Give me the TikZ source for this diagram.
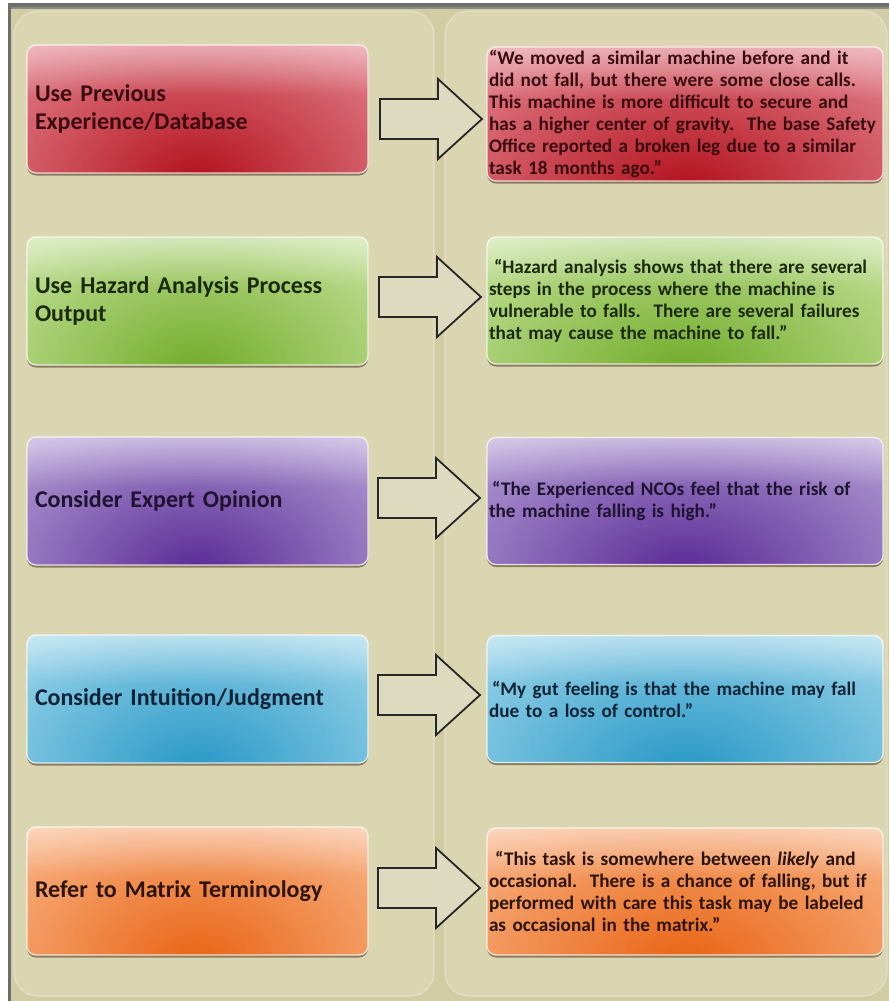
\documentclass[tikz,border=0pt]{standalone}
\usepackage{fontspec}
\setmainfont{Carlito}
\usetikzlibrary{shadows,fadings}

% palette
\definecolor{bgtan}{HTML}{D2CCA4}
\definecolor{paneltan}{HTML}{DBD6B2}
\definecolor{paneledge}{HTML}{E4E0C4}
\definecolor{framegray}{HTML}{6E6E6A}
\definecolor{arrowfill}{HTML}{DEDAC0}

\definecolor{redL}{HTML}{EC98A2}   \definecolor{redD}{HTML}{B3121E}   \definecolor{redT}{HTML}{3A0C10}
\definecolor{grnL}{HTML}{D6EDB2}   \definecolor{grnD}{HTML}{72AC2A}   \definecolor{grnT}{HTML}{1C2A0C}
\definecolor{purL}{HTML}{C6B6E2}   \definecolor{purD}{HTML}{5A2A96}   \definecolor{purT}{HTML}{1E1430}
\definecolor{bluL}{HTML}{B4E2F2}   \definecolor{bluD}{HTML}{2898C6}   \definecolor{bluT}{HTML}{0E2436}
\definecolor{orgL}{HTML}{FCC6A0}   \definecolor{orgD}{HTML}{E96414}   \definecolor{orgT}{HTML}{2C1408}

\tikzset{
  % glossy rounded box: #1 light tone, #2 deep tone, #3 text colour, #4 glow x radius
  glossbox/.style n args={4}{
    rectangle, rounded corners=9, draw=white, draw opacity=.75, line width=1.3,
    fill=#1, text=#3,
    drop shadow={shadow xshift=0pt, shadow yshift=-2.5pt, fill=black!60!brown, opacity=.55},
    path picture={
      \shade[inner color=#2, outer color=#1]
        ([yshift=-6pt]path picture bounding box.south) ellipse [x radius=#4, y radius=210];
      \fill[white, fill opacity=.45, path fading=south]
        (path picture bounding box.north west) rectangle ([yshift=14pt]path picture bounding box.east);
    }
  },
  stepbox/.style n args={3}{
    glossbox={#1}{#2}{#3}{310},
    minimum width=341, minimum height=128, text width=325, inner xsep=8, align=left,
    font=\fontsize{24}{28.5}\selectfont\bfseries
  },
  quotebox/.style n args={3}{
    glossbox={#1}{#2}{#3}{360},
    minimum width=396, minimum height=127, text width=392, inner xsep=2, align=left,
    font=\fontsize{19.2}{22}\selectfont\bfseries\frenchspacing
  },
  blockarr/.style={draw=black!85, line width=1.8, fill=arrowfill, line join=miter}
}

\newcommand\blockarrow[1]{%
  \draw[blockarr] (#1) ++(0,-20) -- ++(58,0) -- ++(0,-20) -- ++(44,40)
    -- ++(-44,40) -- ++(0,-20) -- ++(-58,0) -- cycle;}

\begin{document}
\begin{tikzpicture}[x=1pt,y=-1pt]
\useasboundingbox (0,0) rectangle (889,1001);
\fill[white] (0,0) rectangle (889,1001);
\fill[bgtan] (9,5) rectangle (889,1001);

% frame lines along the top and left
\fill[framegray] (8,3) rectangle (889,7);
\fill[framegray!80] (8,7) rectangle (889,9);
\fill[framegray] (8,3) rectangle (10.5,1001);

% the two column panels
\filldraw[fill=paneltan, draw=paneledge, line width=1.2, rounded corners=24] (14,11) rectangle (434,996);
\filldraw[fill=paneltan, draw=paneledge, line width=1.2, rounded corners=24] (445,11) rectangle (887,996);

% left column: sources of the estimate
\node[stepbox={redL}{redD}{redT}] (L1) at (197.5,109) {Use Previous\\Experience/Database};
\node[stepbox={grnL}{grnD}{grnT}] (L2) at (197.5,301) {Use Hazard Analysis Process\\Output};
\node[stepbox={purL}{purD}{purT}] (L3) at (197.5,501) {Consider Expert Opinion};
\node[stepbox={bluL}{bluD}{bluT}] (L4) at (197.5,699) {Consider Intuition/Judgment};
\node[stepbox={orgL}{orgD}{orgT}] (L5) at (197.5,891) {Refer to Matrix Terminology};

% right column: the resulting statements
\node[quotebox={redL}{redD}{redT}, minimum height=129] (R1) at (685,114)
  {“We moved a similar machine before and it\\
   did not fall, but there were some close calls.\\
   This machine is more difficult to secure and\\
   has a higher center of gravity.\ \ The base Safety\\
   Office reported a broken leg due to a similar\\
   task 18 months ago.”};
\node[quotebox={grnL}{grnD}{grnT}] (R2) at (685,300.5)
  {\hspace{5pt}“Hazard analysis shows that there are several\\
   steps in the process where the machine is\\
   vulnerable to falls.\ \ There are several failures\\
   that may cause the machine to fall.”};
\node[quotebox={purL}{purD}{purT}] (R3) at (685,501)
  {\hspace{3pt}“The Experienced NCOs feel that the risk of\\
   the machine falling is high.”};
\node[quotebox={bluL}{bluD}{bluT}] (R4) at (685,699)
  {\hspace{3pt}“My gut feeling is that the machine may fall\\
   due to a loss of control.”};
\node[quotebox={orgL}{orgD}{orgT}] (R5) at (685,891.5)
  {\hspace{6pt}“This task is somewhere between \textit{likely} and\\
   occasional.\ \ There is a chance of falling, but if\\
   performed with care this task may be labeled\\
   as occasional in the matrix.”};

% block arrows between the columns (tail points)
\coordinate (A1) at (380,119);
\coordinate (A2) at (379,297);
\coordinate (A3) at (378,498);
\coordinate (A4) at (378,695);
\coordinate (A5) at (378,888);
\blockarrow{A1}
\blockarrow{A2}
\blockarrow{A3}
\blockarrow{A4}
\blockarrow{A5}
\end{tikzpicture}
\end{document}
